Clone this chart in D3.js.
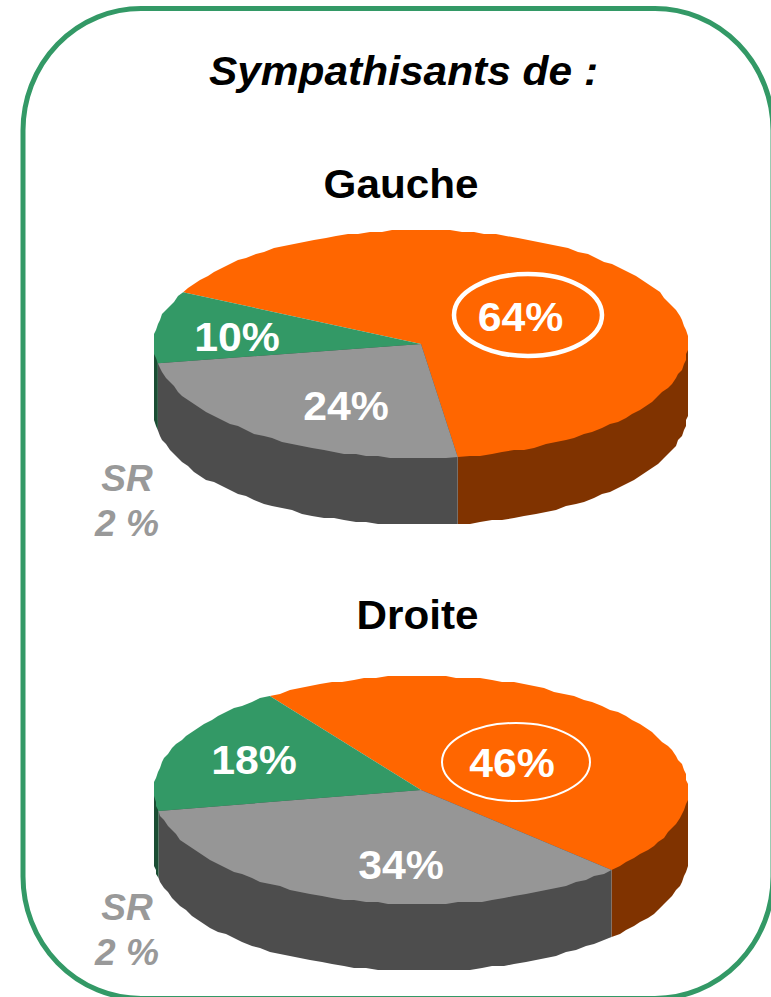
<!DOCTYPE html>
<html><head><meta charset="utf-8">
<script src="https://cdn.jsdelivr.net/npm/d3@7/dist/d3.min.js"></script>
<style>html,body{margin:0;padding:0;background:#fff}svg{display:block}text{font-family:"Liberation Sans",Arial,sans-serif}</style>
</head><body>
<script>
const pieTitles = ["Gauche", "Droite"];
const categories = ["Oui", "Non", "Autre"];
const gaucheValues = [64, 24, 10];
const droiteValues = [46, 34, 18];
const srLabels = ["SR", "2 %"];
const mainTitle = "Sympathisants de :";
const topColors = ["#ff6600", "#969696", "#339966"];
const wallColors = ["#803300", "#4d4d4d", "#1a4d33"];

const W = 771, H = 997;
const svg = d3.select("body").append("svg").attr("width", W).attr("height", H);
svg.append("rect").attr("width", W).attr("height", H).attr("fill", "#fff");

// frame
svg.append("rect").attr("x", 23).attr("y", 8.5).attr("width", 750).attr("height", 990)
  .attr("rx", 118).attr("ry", 122).attr("fill", "none").attr("stroke", "#339966").attr("stroke-width", 5);

function label(x, y, size, sx, txt, opts = {}) {
  return svg.append("text").attr("transform", `translate(${x},${y}) scale(${sx},1)`)
    .attr("text-anchor", "middle").attr("font-size", size).attr("font-weight", "bold")
    .attr("font-style", opts.italic ? "italic" : "normal")
    .attr("fill", opts.fill || "#000").text(txt);
}

label(403.5, 85, 41, 1.035, mainTitle, {italic: true});

const rx = 267, ry = 114, depth = 67, cx = 421, grain = 2;
const pieLayouts = [
  {title: pieTitles[0], values: gaucheValues, cy: 344, start: -63, titleX: 401, titleY: 198,
   labels: [[520.5, 331], [346, 420], [237, 351]], ring: {cx: 528, cy: 315, rx: 74, ry: 41, w: 4.5}, srY: 491},
  {title: pieTitles[1], values: droiteValues, cy: 790, start: -34.5, titleX: 417.5, titleY: 629,
   labels: [[512, 777], [401, 879], [254, 774]], ring: {cx: 516, cy: 762, rx: 74, ry: 39, w: 2}, srY: 920}
];

const toRad = d3.scaleLinear().domain([0, 360]).range([0, 2 * Math.PI]);
const snap = v => Math.round(v / grain) * grain;
const line = d3.line().x(d => d[0]).y(d => d[1]);

function drawPie(cfg) {
  const g = svg.append("g");
  const pie = d3.pie().sort(null).value(d => d)
    .startAngle(toRad(cfg.start)).endAngle(toRad(cfg.start + 360));
  const arcs = pie(cfg.values);
  const px = a => cx + rx * Math.sin(a);
  const py = (a, off) => cfg.cy - ry * Math.cos(a) + off;
  const samples = (a0, a1) => {
    const n = Math.max(2, Math.ceil((a1 - a0) / toRad(2.5)));
    return d3.range(0, n + 1).map(k => a0 + (a1 - a0) * k / n);
  };
  const rim = (a, off, i, n) => (i === 0 || i === n)
    ? [px(a), py(a, off)] : [snap(px(a)), snap(py(a, off))];

  // side wall: front half only (screen angles 90..270 degrees); its upper edge runs under the top face
  const lo = Math.PI / 2, hi = 3 * Math.PI / 2;
  arcs.forEach((d, i) => {
    [0, 2 * Math.PI, -2 * Math.PI].forEach(shift => {
      const a0 = Math.max(d.startAngle + shift, lo), a1 = Math.min(d.endAngle + shift, hi);
      if (a1 <= a0) return;
      const s = samples(a0, a1), n = s.length - 1;
      const pts = [[px(a0), cfg.cy]]
        .concat(s.map((a, k) => rim(a, depth, k, n)))
        .concat([[px(a1), cfg.cy]]);
      g.append("path").attr("d", line(pts) + "Z").attr("fill", wallColors[i]);
    });
  });

  // top face: pie slices sampled along the squashed circle
  arcs.forEach((d, i) => {
    const s = samples(d.startAngle, d.endAngle), n = s.length - 1;
    const pts = [[cx, cfg.cy]].concat(s.map((a, k) => rim(a, 0, k, n)));
    g.append("path").attr("d", line(pts) + "Z").attr("fill", topColors[i]);
  });

  label(cfg.titleX, cfg.titleY, 41, 1.03, cfg.title);

  svg.append("ellipse").attr("cx", cfg.ring.cx).attr("cy", cfg.ring.cy)
    .attr("rx", cfg.ring.rx).attr("ry", cfg.ring.ry)
    .attr("fill", "none").attr("stroke", "#fff").attr("stroke-width", cfg.ring.w);

  cfg.values.forEach((v, i) => {
    label(cfg.labels[i][0], cfg.labels[i][1], 40, 1.07, v + "%", {fill: "#fff"});
  });

  srLabels.forEach((s, i) => {
    label(127, cfg.srY + i * 45, 36, 1.03, s, {italic: true, fill: "#999"});
  });
}
pieLayouts.forEach(drawPie);
</script>
</body></html>
